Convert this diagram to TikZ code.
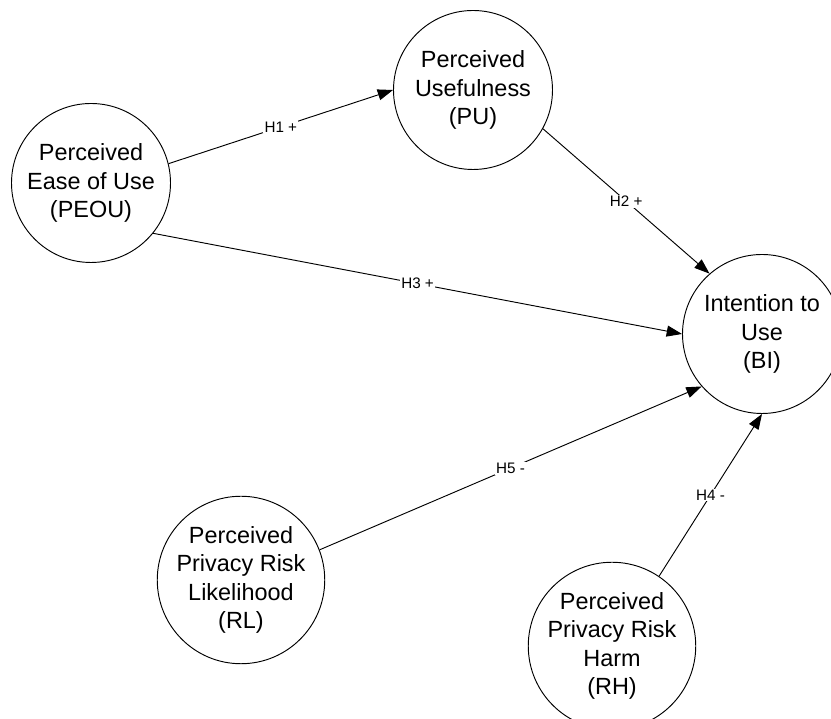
\documentclass[tikz,border=0pt]{standalone}
\usepackage{fontspec}
\setmainfont{Liberation Sans}
\usetikzlibrary{arrows.meta}

\begin{document}
\begin{tikzpicture}[
	construct/.style={draw, circle, line width=0.8pt, minimum size=4.77cm, inner sep=0pt, align=center, font=\fontsize{20}{24.2}\selectfont},
	effect/.style={-{Triangle[length=4.6mm, width=3.3mm]}, line width=0.8pt},
	hyp/.style={fill=white, inner sep=1pt, font=\fontsize{13}{15}\selectfont}
	]
			\useasboundingbox (0,0) rectangle (24.93,21.57);
			\clip (0,0) rectangle (24.93,21.57);
			
			% -- Constructs --
			\node[construct] (peou) at (2.73,16.08) {Perceived\\Ease of Use\\(PEOU)};
			\node[construct] (pu) at (14.19,18.87) {Perceived\\Usefulness\\(PU)};
			\node[construct] (bi) at (22.86,11.55) {Intention to\\Use\\(BI)};
			\node[construct] (rl) at (7.23,4.17) {Perceived\\Privacy Risk\\Likelihood\\(RL)};
			\node[construct] (rh) at (18.36,2.19) {Perceived\\Privacy Risk\\Harm\\(RH)};
			
			% -- Hypotheses --
			\draw[effect] (peou.14) -- node[hyp] {H1 +} (pu.180);
			\draw[effect] (pu.-29) -- node[hyp] {H2 +} (bi.131);
			\draw[effect] (peou.-39) -- node[hyp] {H3 +} (bi.180);
			\draw[effect] (rh.56) -- node[hyp] {H4 -} (bi.-90);
			\draw[effect] (rl.21) -- node[hyp] {H5 -} (bi.-139);
		\end{tikzpicture}
\end{document}
